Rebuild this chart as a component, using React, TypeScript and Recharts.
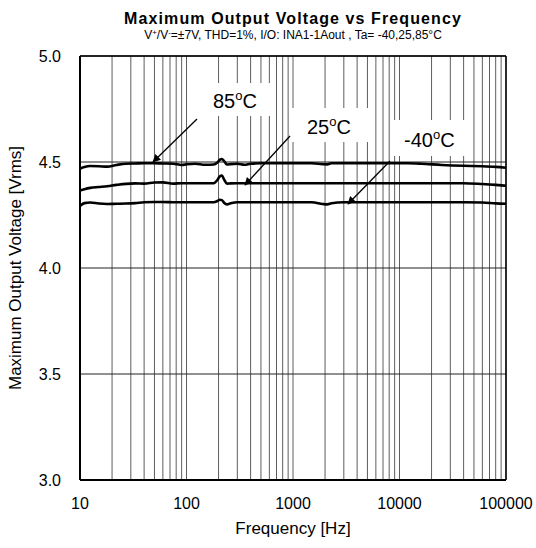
import React from "react";
import {
  LineChart,
  Line,
  XAxis,
  YAxis,
  CartesianGrid,
  ReferenceLine,
} from "recharts";

const frequencies = [
  10, 11, 12.5, 15, 18, 22, 27, 33, 40, 50, 60, 75, 90, 100, 120, 150, 180, 195,
  205, 215, 225, 240, 260, 300, 350, 400, 500, 700, 1000, 1500, 1900, 2100, 2300,
  3000, 5000, 8000, 12000, 16000, 25000, 40000, 60000, 80000, 100000,
];

const v85 = [
  4.468, 4.476, 4.481, 4.48, 4.478, 4.486, 4.492, 4.493, 4.494, 4.494, 4.493,
  4.492, 4.486, 4.489, 4.492, 4.487, 4.488, 4.498, 4.51, 4.514, 4.505, 4.488,
  4.49, 4.492, 4.487, 4.492, 4.494, 4.494, 4.494, 4.494, 4.49, 4.489, 4.494,
  4.494, 4.494, 4.494, 4.494, 4.492, 4.486, 4.482, 4.48, 4.477, 4.473,
];

const v25 = [
  4.366, 4.372, 4.378, 4.382, 4.386, 4.392, 4.397, 4.399, 4.398, 4.403, 4.404,
  4.398, 4.4, 4.4, 4.4, 4.4, 4.4, 4.415, 4.432, 4.436, 4.418, 4.398, 4.399,
  4.4, 4.4, 4.4, 4.4, 4.4, 4.4, 4.4, 4.4, 4.4, 4.4, 4.4, 4.4, 4.4, 4.4, 4.4,
  4.4, 4.4, 4.396, 4.392, 4.388,
];

const vM40 = [
  4.293, 4.306, 4.309, 4.304, 4.302, 4.303, 4.304, 4.306, 4.31, 4.311, 4.311,
  4.31, 4.31, 4.31, 4.31, 4.31, 4.31, 4.316, 4.322, 4.32, 4.308, 4.3, 4.305,
  4.31, 4.31, 4.31, 4.31, 4.31, 4.31, 4.31, 4.302, 4.3, 4.305, 4.31, 4.31,
  4.31, 4.31, 4.31, 4.31, 4.31, 4.309, 4.305, 4.303,
];

const xGridTicks = [
  10, 20, 30, 40, 50, 60, 70, 80, 90, 100, 200, 300, 400, 500, 600, 700, 800,
  900, 1000, 2000, 3000, 4000, 5000, 6000, 7000, 8000, 9000, 10000, 20000, 30000,
  40000, 50000, 60000, 70000, 80000, 90000, 100000,
];
const xLabelTicks = [10, 100, 1000, 10000, 100000];
const yTicks = [3.0, 3.5, 4.0, 4.5, 5.0];

const data = frequencies.map((f, i) => ({
  f,
  t85: v85[i],
  t25: v25[i],
  tm40: vM40[i],
}));

const FONT = "'Liberation Sans', Arial, sans-serif";

export default function App() {
  return (
    <div
      style={{
        position: "absolute",
        left: 0,
        top: 0,
        width: 536,
        height: 548,
        background: "#fff",
        fontFamily: FONT,
      }}
    >
      <LineChart
        width={536}
        height={548}
        data={data}
        margin={{ top: 56, right: 30, left: 20, bottom: 38 }}
      >
        <CartesianGrid
          horizontal={false}
          stroke="#5e5e5e"
          strokeWidth={1}
        />
        <CartesianGrid vertical={false} stroke="#222" strokeWidth={1} />
        <XAxis
          dataKey="f"
          type="number"
          scale="log"
          domain={[10, 100000]}
          ticks={xGridTicks}
          interval={0}
          height={30}
          tickLine={false}
          tickSize={6}
          tickMargin={12}
          axisLine={{ stroke: "#000", strokeWidth: 2 }}
          tick={{ fill: "#000", fontSize: 16, fontFamily: FONT }}
          tickFormatter={(v: number) =>
            xLabelTicks.includes(v) ? String(v) : ""
          }
          allowDataOverflow
        />
        <YAxis
          type="number"
          domain={[3, 5]}
          ticks={yTicks}
          interval={0}
          width={60}
          tickLine={false}
          tickSize={6}
          tickMargin={13}
          axisLine={{ stroke: "#000", strokeWidth: 2 }}
          tick={{ fill: "#000", fontSize: 16, fontFamily: FONT }}
          tickFormatter={(v: number) => v.toFixed(1)}
          allowDataOverflow
        />
        <ReferenceLine x={100000} stroke="#000" strokeWidth={1.5} />
        <ReferenceLine y={5} stroke="#000" strokeWidth={1.5} />
        <Line
          dataKey="t85"
          type="monotone"
          stroke="#000"
          strokeWidth={2.6}
          dot={false}
          isAnimationActive={false}
        />
        <Line
          dataKey="t25"
          type="monotone"
          stroke="#000"
          strokeWidth={2.6}
          dot={false}
          isAnimationActive={false}
        />
        <Line
          dataKey="tm40"
          type="monotone"
          stroke="#000"
          strokeWidth={2.6}
          dot={false}
          isAnimationActive={false}
        />
      </LineChart>
      <svg
        width={536}
        height={548}
        style={{ position: "absolute", left: 0, top: 0, pointerEvents: "none" }}
        fontFamily={FONT}
      >
        <defs>
          <marker
            id="ah"
            viewBox="0 0 10 10"
            refX="9"
            refY="5"
            markerWidth="10"
            markerHeight="8"
            markerUnits="userSpaceOnUse"
            orient="auto"
          >
            <path d="M0,0 L10,5 L0,10 z" fill="#000" />
          </marker>
        </defs>
        <text
          x={293}
          y={24}
          textAnchor="middle"
          fontSize={16}
          fontWeight="bold"
          letterSpacing={1.1}
          fill="#000"
        >
          Maximum Output Voltage vs Frequency
        </text>
        <text x={293} y={39} textAnchor="middle" fontSize={12} fill="#000">
          V<tspan fontSize={8} dy={-4}>+</tspan>
          <tspan dy={4}>/V</tspan>
          <tspan fontSize={8} dy={-4}>-</tspan>
          <tspan dy={4}>=±7V, THD=1%,  I/O: INA1-1Aout , Ta= -40,25,85°C</tspan>
        </text>
        <text
          transform="translate(21,268) rotate(-90)"
          textAnchor="middle"
          fontSize={17}
          fill="#000"
        >
          Maximum Output Voltage [Vrms]
        </text>
        <text x={293} y={534} textAnchor="middle" fontSize={17} fill="#000">
          Frequency [Hz]
        </text>

        <rect x={190} y={83} width={85} height={33} fill="#fff" />
        <rect x={292} y={108} width={78} height={34} fill="#fff" />
        <rect x={392} y={120} width={80} height={36} fill="#fff" />

        <text x={213} y={108} fontSize={20} fill="#000">
          85<tspan fontSize={13} dy={-8}>o</tspan>
          <tspan dy={8}>C</tspan>
        </text>
        <text x={307} y={134} fontSize={20} fill="#000">
          25<tspan fontSize={13} dy={-8}>o</tspan>
          <tspan dy={8}>C</tspan>
        </text>
        <text x={404} y={147} fontSize={20} fill="#000">
          -40<tspan fontSize={13} dy={-8}>o</tspan>
          <tspan dy={8}>C</tspan>
        </text>

        <line x1={197} y1={119} x2={153} y2={162} stroke="#000" strokeWidth={1.3} markerEnd="url(#ah)" />
        <line x1={290} y1={136} x2={245} y2={185} stroke="#000" strokeWidth={1.3} markerEnd="url(#ah)" />
        <line x1={390} y1={161} x2={348} y2={204} stroke="#000" strokeWidth={1.3} markerEnd="url(#ah)" />
      </svg>
    </div>
  );
}
